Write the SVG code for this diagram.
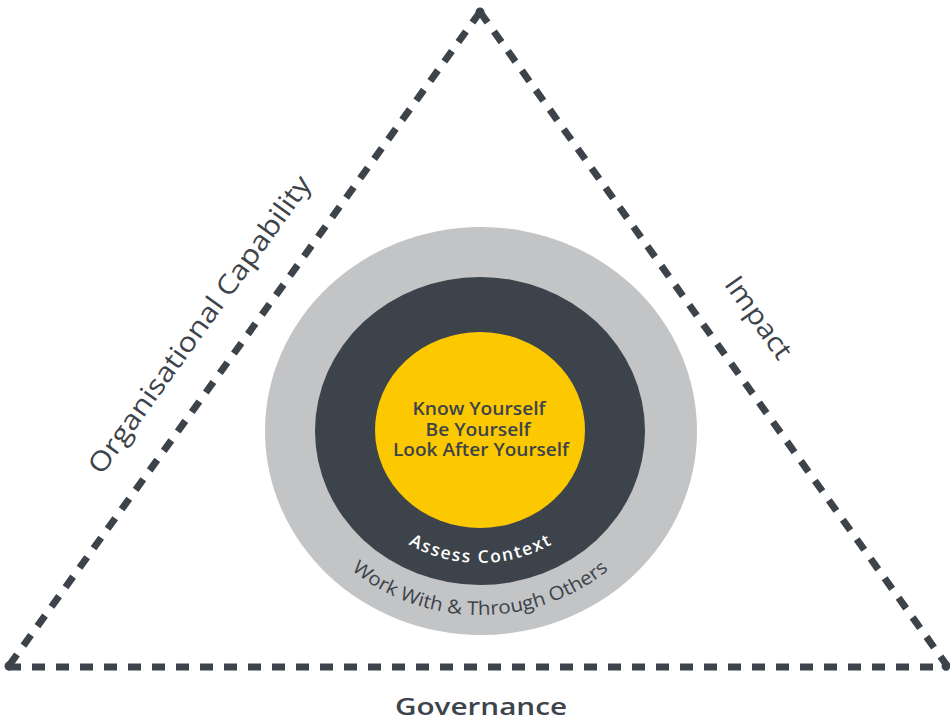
<svg xmlns="http://www.w3.org/2000/svg" width="950" height="723" viewBox="0 0 950 723">
<style>
.edge{stroke:#3d434a;stroke-width:7;stroke-dasharray:13 11;fill:none}
.lbl{font-family:"Open Sans","Liberation Sans",sans-serif;fill:#3d434a}
.core{font-family:"Open Sans","Liberation Sans",sans-serif;fill:#3d434a;font-size:18.5px;font-weight:600;text-anchor:middle}
</style>
<defs>
<path id="arcInner" d="M340,431 A140,132 0 0 0 620,431"/>
<path id="arcOuter" d="M284,431 A196,184 0 0 0 676,431"/>
</defs>
<rect width="950" height="723" fill="#ffffff"/>
<g id="connectors">
<line class="edge" x1="480" y1="12" x2="8" y2="667"/>
<line class="edge" x1="480" y1="12" x2="948" y2="667"/>
<line class="edge" x1="8" y1="667" x2="948" y2="667"/>
<circle cx="480" cy="12" r="4.5" fill="#3d434a"/>
<circle cx="9" cy="666" r="4.5" fill="#3d434a"/>
<circle cx="946" cy="666" r="4.5" fill="#3d434a"/>
</g>
<g id="outer-ring">
<ellipse cx="481" cy="431" rx="216" ry="204" fill="#c2c4c6"/>
<text class="lbl" font-size="19" fill="#474c52"><textPath href="#arcOuter" startOffset="50%" text-anchor="middle" textLength="278" lengthAdjust="spacingAndGlyphs">Work With &amp; Through Others</textPath></text>
</g>
<g id="middle-ring">
<ellipse cx="480" cy="431" rx="165" ry="154" fill="#3d434a"/>
<text font-family="'Open Sans','Liberation Sans',sans-serif" font-size="17.5" font-weight="600" fill="#ffffff"><textPath href="#arcInner" startOffset="50%" text-anchor="middle" textLength="150" lengthAdjust="spacing">Assess Context</textPath></text>
</g>
<g id="core">
<ellipse cx="480" cy="430" rx="105" ry="98" fill="#fcc900"/>
<text class="core" x="479" y="415" textLength="133" lengthAdjust="spacingAndGlyphs">Know Yourself</text>
<text class="core" x="478" y="436" textLength="105" lengthAdjust="spacingAndGlyphs">Be Yourself</text>
<text class="core" x="481" y="456" textLength="176" lengthAdjust="spacingAndGlyphs">Look After Yourself</text>
</g>
<g id="label-org">
<text class="lbl" font-size="27" text-anchor="middle" transform="translate(207,330) rotate(-54.2)" textLength="360" lengthAdjust="spacingAndGlyphs">Organisational Capability</text>
</g>
<g id="label-impact">
<text class="lbl" font-size="27" text-anchor="middle" transform="translate(751,323) rotate(54.5)" textLength="95" lengthAdjust="spacingAndGlyphs">Impact</text>
</g>
<g id="label-governance">
<text class="lbl" x="481" y="715" font-size="24" font-weight="600" text-anchor="middle" textLength="172" lengthAdjust="spacingAndGlyphs">Governance</text>
</g>
</svg>
